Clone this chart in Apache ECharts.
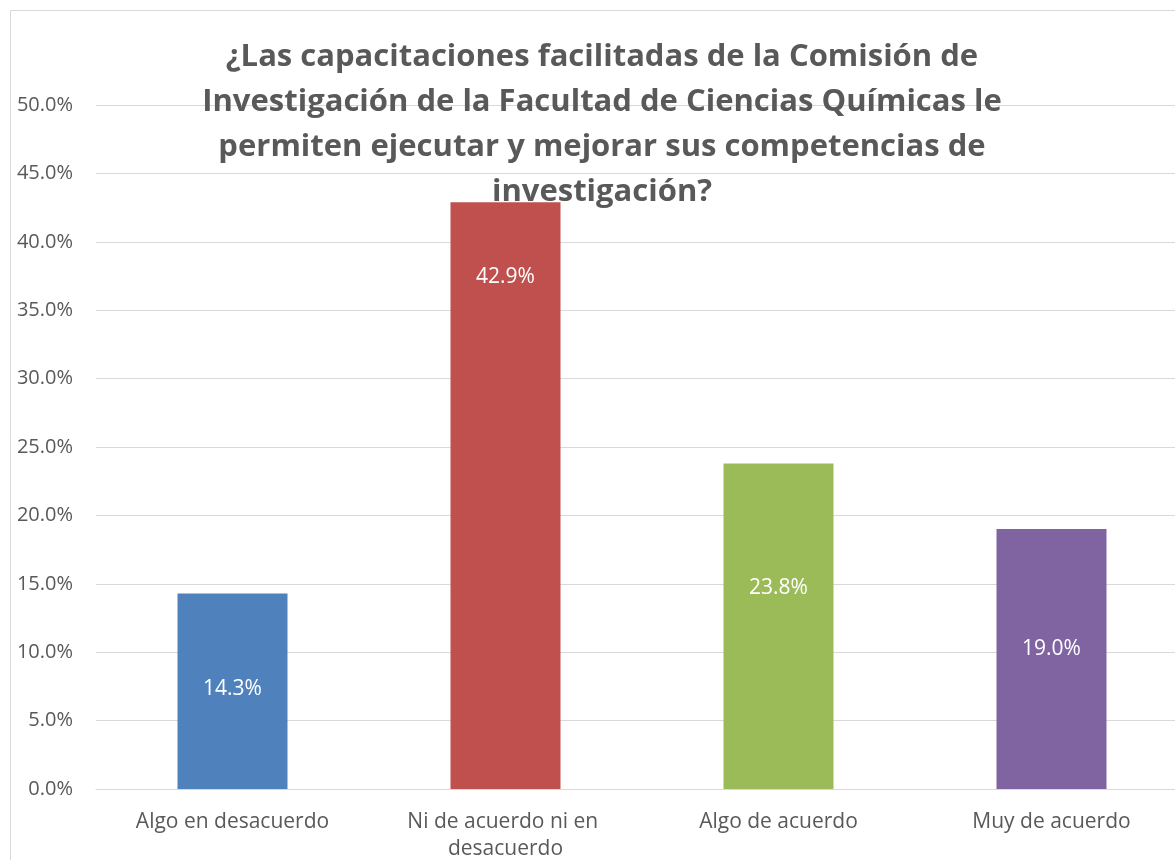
<!DOCTYPE html>
<html>
<head>
<meta charset="utf-8">
<script src="https://cdn.jsdelivr.net/npm/echarts@6/dist/echarts.min.js"></script>
<style>
  html, body { margin: 0; padding: 0; background: #fff; }
  #chart { width: 1175px; height: 860px; }
</style>
</head>
<body>
<div id="chart"></div>
<script>
const categories = ['Algo en desacuerdo', 'Ni de acuerdo ni en desacuerdo', 'Algo de acuerdo', 'Muy de acuerdo'];
const values = [14.3, 42.9, 23.8, 19.0];
const barColors = ['#4F81BD', '#C0504D', '#9BBB59', '#8064A2'];
// etiquetas movidas a mano en el original (px desde el centro de la barra)
const labelShift = [-2, -219, -38, -10];

const titleText = '¿Las capacitaciones facilitadas de la Comisión de\n' +
    'Investigación de la Facultad de Ciencias Químicas le\n' +
    'permiten ejecutar y mejorar sus competencias de\n' +
    'investigación?';

const chart = echarts.init(document.getElementById('chart'));

chart.setOption({
    animation: false,
    textStyle: { fontFamily: 'Open Sans' },
    title: {
        text: titleText,
        left: 597,
        top: 30,
        textAlign: 'center',
        z: 0,
        textStyle: {
            color: '#595959',
            fontSize: 31,
            fontWeight: 'bold',
            lineHeight: 45,
            fontFamily: 'Open Sans'
        }
    },
    graphic: [{
        type: 'rect',
        shape: { x: 10.5, y: 10.5, width: 1300, height: 1000 },
        style: { fill: 'none', stroke: '#d9d9d9', lineWidth: 1 },
        silent: true,
        z: -10
    }],
    grid: {
        left: 96,
        top: 105,
        bottom: 71,
        width: 1092,
        outerBoundsMode: 'none'
    },
    xAxis: {
        type: 'category',
        data: categories,
        axisLine: { show: true, lineStyle: { color: '#d9d9d9', width: 1 } },
        axisTick: { show: false },
        axisLabel: {
            color: '#595959',
            fontSize: 21,
            margin: 20,
            width: 240,
            overflow: 'break',
            lineHeight: 27,
            interval: 0
        }
    },
    yAxis: {
        type: 'value',
        min: 0,
        max: 50,
        interval: 5,
        axisLine: { show: false },
        axisTick: { show: false },
        axisLabel: {
            color: '#595959',
            fontSize: 20,
            margin: 23,
            formatter: v => v.toFixed(1) + '%'
        },
        splitLine: { lineStyle: { color: '#d9d9d9', width: 1 } }
    },
    series: [{
        type: 'bar',
        barWidth: 110,
        data: values.map((v, i) => ({
            value: v,
            itemStyle: { color: barColors[i] },
            label: { offset: [0, labelShift[i]] }
        })),
        label: {
            show: true,
            position: 'inside',
            color: '#ffffff',
            fontSize: 21,
            formatter: p => p.value.toFixed(1) + '%'
        }
    }]
});
</script>
</body>
</html>
